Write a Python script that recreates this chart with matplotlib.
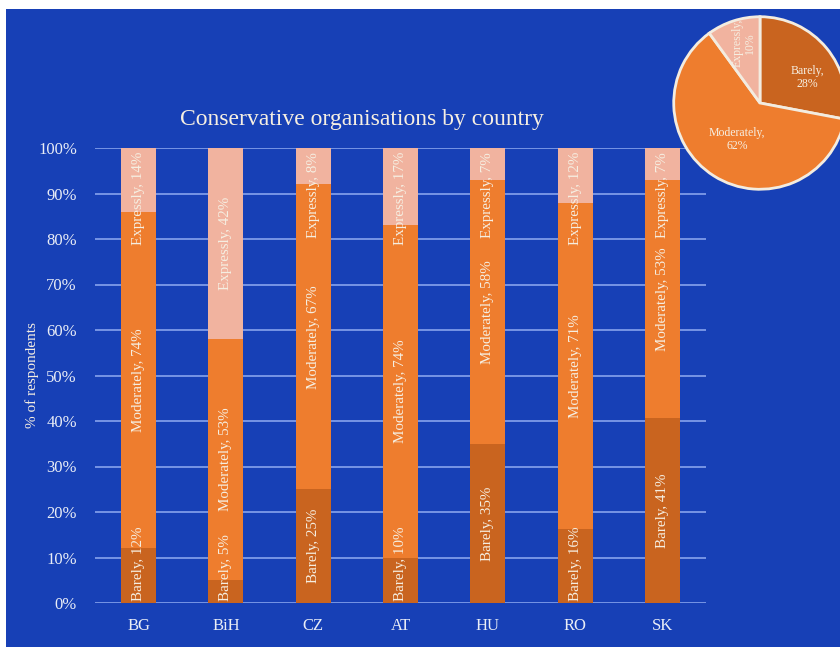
import numpy as np
import matplotlib
matplotlib.use('Agg')
import matplotlib.pyplot as plt
from matplotlib.patches import Rectangle

countries = ['BG', 'BiH', 'CZ', 'AT', 'HU', 'RO', 'SK']
barely = [12, 5, 25, 10, 35, 16, 41]
moderately = [74, 53, 67, 74, 58, 71, 53]
expressly = [14, 42, 8, 17, 7, 12, 7]
series_names = ['Barely', 'Moderately', 'Expressly']

pie_values = [28, 62, 10]

bg = '#1740b6'
cols = ['#c9641f', '#ee7d2e', '#f1b39f']
txt = '#f6efe2'
plt.rcParams['font.family'] = ['Liberation Serif', 'DejaVu Serif']

fig = plt.figure(figsize=(8.4, 6.47), dpi=100, facecolor='white')
W, H = 840, 647
# blue panel with a thin white margin top and left
fig.patches.append(Rectangle((6/W, 0), 1, 1 - 9/H, transform=fig.transFigure,
                             facecolor=bg, edgecolor='none', zorder=-10))

ax = fig.add_axes([95/W, 1 - 603/H, (706-95)/W, (603-148)/H])
ax.set_facecolor('none')
x = np.arange(len(countries))
data = np.array([barely, moderately, expressly], dtype=float)
# the chart shows each bar as share of its own total (100% stacked)
totals = data.sum(axis=0)
shares = data / totals * 100
bottom = np.zeros(len(countries))
for name, vals, raw, c in zip(series_names, shares, data, cols):
    ax.bar(x, vals, 0.4, bottom=bottom, color=c, zorder=3)
    for xi, b, v, rv in zip(x, bottom, vals, raw):
        lab = f'{name}, {int(rv)}%'
        half = len(lab) * 3.4 / 4.55
        cy = b + v / 2
        cy = min(max(cy, half + 0.3), 100 - half - 0.6)
        ax.text(xi, cy, lab, rotation=90, ha='center', va='center',
                color=txt, fontsize=10.8, zorder=4)
    bottom += vals

ax.set_xlim(-0.5, 6.5)
ax.set_ylim(0, 100)
ax.set_yticks(np.arange(0, 101, 10))
ax.set_yticklabels([f'{t}%' for t in range(0, 101, 10)])
ax.set_xticks(x)
ax.set_xticklabels(countries)
ax.tick_params(axis='y', length=0, pad=13, labelsize=12, labelcolor='#e9edf6')
ax.tick_params(axis='x', length=0, pad=11, labelsize=12, labelcolor='#e9edf6')
ax.grid(axis='y', color='#7f9be8', linewidth=1.3, zorder=0)
for s in ax.spines.values():
    s.set_visible(False)

fig.text(362/W, 1 - 119/H, 'Conservative organisations by country',
         ha='center', va='center', color=txt, fontsize=17)
fig.text(32/W, 1 - 375/H, '% of respondents', rotation=90,
         ha='center', va='center', color=txt, fontsize=11)

# pie inset, partly outside the figure
r = 88
pax = fig.add_axes([(760 - r)/W, 1 - (103 + r)/H, 2*r/W, 2*r/H])
wedges, _ = pax.pie(pie_values, colors=cols, startangle=90, counterclock=False,
                    wedgeprops=dict(edgecolor='#f3ece0', linewidth=2))
pax.set_aspect('equal')
pax.set_xlim(-1.02, 1.02)
pax.set_ylim(-1.02, 1.02)
pie_r = [0.62, 0.5, 0.72]
pie_shift = [-11, 0, -3]
for w, name, v, rr, dd in zip(wedges, series_names, pie_values, pie_r, pie_shift):
    ang = np.deg2rad((w.theta1 + w.theta2) / 2 + dd)
    rot = 90 if name == 'Expressly' else 0
    pax.text(rr*np.cos(ang), rr*np.sin(ang), f'{name},\n{v}%', ha='center',
             va='center', color=txt, fontsize=8.5, rotation=rot, linespacing=1.1)

fig.savefig('out.png', dpi=100, facecolor='white')
